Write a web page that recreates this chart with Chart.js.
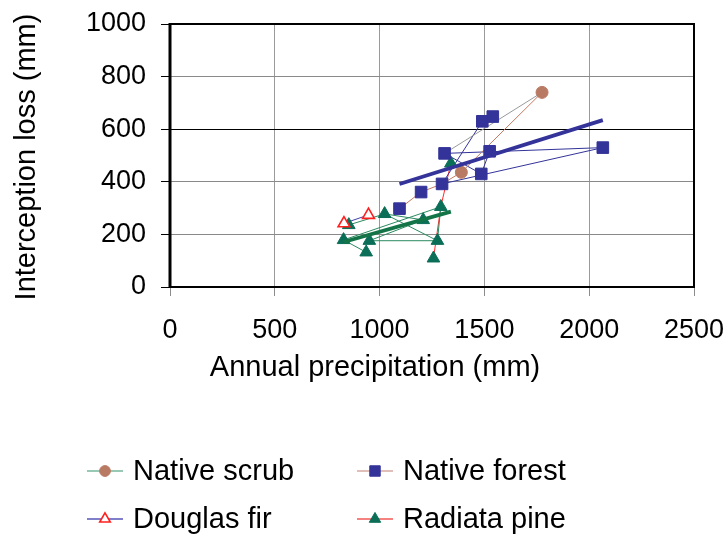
<!DOCTYPE html>
<html>
<head>
<meta charset="utf-8">
<script src="https://cdn.jsdelivr.net/npm/chart.js@4.4.1/dist/chart.umd.min.js"></script>
<style>
  html, body { margin: 0; padding: 0; background: #fff; }
  canvas { display: block; }
</style>
</head>
<body>
<canvas id="interception" width="723" height="535"></canvas>
<script>
// annual precipitation (mm) and interception loss (mm) per site
const scrubPrecip = [1775, 1390];
const scrubLoss = [740, 436];
const forestPrecip = [1095, 1198, 1298, 1310, 1490, 1540, 1525, 1485, 2065];
const forestLoss = [298, 361, 392, 508, 630, 648, 516, 430, 530];
const firPrecip = [830, 947];
const firLoss = [242, 274];
const pinePrecip = [853, 1024, 1208, 1292, 828, 951, 1276, 936, 1257, 1340];
const pineLoss = [236, 278, 255, 305, 179, 176, 176, 132, 109, 470];

// order in which the sites are joined up
const forestLink = [4, 2, 8, 3, 7, 6];
const forestScrubLink = [0, 1, 2];      // then on to scrub sites 1, 0
const pineLink = [7, 4, 3, 6, 5, 2, 1, 0];
const pineLink2 = [1, 6];
const pineRedLink = [8, 3, 9];

const xTicks = [0, 500, 1000, 1500, 2000, 2500];
const yTicks = [0, 200, 400, 600, 800, 1000];

const FONT = '"Liberation Sans", Arial, Helvetica, sans-serif';
const NAVY = '#333399';
const BROWN = '#b97a63';
const TEAL = '#0b6e57';

const pts = (xs, ys, idx) => idx.map(i => ({ x: xs[i], y: ys[i] }));
const all = (xs, ys) => xs.map((x, i) => ({ x, y: ys[i] }));

// least squares line across the range of the series
function trend(xs, ys) {
  const n = xs.length;
  const mx = xs.reduce((a, b) => a + b, 0) / n;
  const my = ys.reduce((a, b) => a + b, 0) / n;
  let sxy = 0, sxx = 0;
  xs.forEach((x, i) => { sxy += (x - mx) * (ys[i] - my); sxx += (x - mx) * (x - mx); });
  const b = sxy / sxx;
  const lo = Math.min(...xs), hi = Math.max(...xs);
  return [{ x: lo, y: my + b * (lo - mx) }, { x: hi, y: my + b * (hi - mx) }];
}

const path = (data, color, width, order) => ({
  data, showLine: true, borderColor: color, borderWidth: width,
  pointRadius: 0, pointHoverRadius: 0, order
});

const datasets = [
  path(trend(forestPrecip, forestLoss), NAVY, 3.8, 0),
  path(trend(pinePrecip, pineLoss), '#137447', 3.8, 0),
  {
    label: 'Native scrub', data: all(scrubPrecip, scrubLoss), showLine: false,
    pointStyle: 'circle', pointRadius: 6, backgroundColor: BROWN, borderColor: BROWN, order: 1
  },
  {
    label: 'Native forest', data: all(forestPrecip, forestLoss), showLine: false,
    pointStyle: 'rect', pointRadius: 8.2, backgroundColor: NAVY, borderColor: NAVY, order: 1
  },
  {
    label: 'Douglas fir', data: all(firPrecip, firLoss), showLine: false,
    pointStyle: 'triangle', pointRadius: 6.8, backgroundColor: '#fff', borderColor: '#ff1f1f',
    pointBorderWidth: 1.6, order: 1
  },
  {
    label: 'Radiata pine', data: all(pinePrecip, pineLoss), showLine: false,
    pointStyle: 'triangle', pointRadius: 7.3, backgroundColor: TEAL, borderColor: TEAL, order: 1
  },
  path([...pts(forestPrecip, forestLoss, forestScrubLink), ...pts(scrubPrecip, scrubLoss, [1, 0])], '#c27a62', 1, 2),
  path([...pts(scrubPrecip, scrubLoss, [0]), ...pts(forestPrecip, forestLoss, [3])], '#9a9a9a', 1, 2),
  path(pts(forestPrecip, forestLoss, forestLink), NAVY, 1, 2),
  path(all(firPrecip, firLoss), '#4040a8', 1, 2),
  path(pts(pinePrecip, pineLoss, pineLink), '#2b8a60', 1, 2),
  path(pts(pinePrecip, pineLoss, pineLink2), '#2b8a60', 1, 2),
  path(pts(pinePrecip, pineLoss, pineRedLink), '#ff2a2a', 1, 2)
];

const legendItems = [
  { text: 'Native scrub', line: '#74b79d', ds: 2 },
  { text: 'Native forest', line: '#d6aaa0', ds: 3 },
  { text: 'Douglas fir', line: '#5656b8', ds: 4 },
  { text: 'Radiata pine', line: '#f25757', ds: 5 }
];

// plot frame, axis titles and the two-column key underneath
const decorations = {
  id: 'decorations',
  beforeDatasetsDraw(chart) {
    const { ctx, chartArea: a } = chart;
    ctx.save();
    ctx.strokeStyle = '#000';
    ctx.lineWidth = 2;
    ctx.beginPath();
    ctx.moveTo(a.left, a.top);
    ctx.lineTo(a.right, a.top);
    ctx.lineTo(a.right, a.bottom);
    ctx.lineTo(a.left, a.bottom);
    ctx.stroke();
    ctx.lineWidth = 3;
    ctx.beginPath();
    ctx.moveTo(a.left, a.top - 1);
    ctx.lineTo(a.left, a.bottom + 1);
    ctx.stroke();
    ctx.restore();
  },
  afterDraw(chart) {
    const ctx = chart.ctx;
    ctx.save();
    ctx.fillStyle = '#000';
    ctx.font = '29px ' + FONT;
    ctx.textAlign = 'center';
    ctx.textBaseline = 'alphabetic';
    ctx.fillText('Annual precipitation (mm)', 375, 376);

    ctx.save();
    ctx.translate(35, 157);
    ctx.rotate(-Math.PI / 2);
    ctx.fillText('Interception loss (mm)', 0, 0);
    ctx.restore();

    ctx.textAlign = 'left';
    legendItems.forEach((item, i) => {
      const col = i % 2, row = Math.floor(i / 2);
      const x0 = col ? 357 : 87;
      const ly = row ? 519 : 471;
      ctx.strokeStyle = item.line;
      ctx.lineWidth = 1.5;
      ctx.beginPath();
      ctx.moveTo(x0, ly);
      ctx.lineTo(x0 + 36, ly);
      ctx.stroke();
      const ds = chart.data.datasets[item.ds];
      ctx.fillStyle = ds.backgroundColor;
      ctx.strokeStyle = ds.borderColor;
      ctx.lineWidth = ds.pointBorderWidth || 1;
      Chart.helpers.drawPoint(ctx, {
        pointStyle: ds.pointStyle, radius: ds.pointRadius * 0.9, rotation: 0, borderWidth: ctx.lineWidth
      }, x0 + 18, ly);
      ctx.fillStyle = '#000';
      ctx.fillText(item.text, x0 + 46, row ? 528 : 480);
    });
    ctx.restore();
  }
};

const ctx = document.getElementById('interception').getContext('2d');

const chart = new Chart(ctx, {
  type: 'scatter',
  data: { datasets },
  options: {
    responsive: false,
    animation: false,
    layout: { padding: { left: 0, top: 24, right: 29, bottom: 188 } },
    plugins: { legend: { display: false }, tooltip: { enabled: false } },
    scales: {
      x: {
        type: 'linear', min: 0, max: 2500,
        afterBuildTicks: s => { s.ticks = xTicks.map(v => ({ value: v })); },
        afterFit: s => { s.height = 60; s.paddingLeft = 0; s.paddingRight = 0; },
        ticks: {
          color: '#000', font: { family: FONT, size: 27 }, padding: 18, maxRotation: 0,
          callback: v => String(v)
        },
        grid: {
          color: c => (c.tick.value === 0 || c.tick.value === 2500) ? 'rgba(0,0,0,0)' : '#9a9a9a',
          tickColor: '#8c8c8c', tickLength: 9
        },
        border: { display: false }
      },
      y: {
        type: 'linear', min: 0, max: 1000,
        afterBuildTicks: s => { s.ticks = yTicks.map(v => ({ value: v })); },
        afterFit: s => { s.width = 170; s.paddingTop = 0; s.paddingBottom = 0; },
        ticks: { color: '#000', font: { family: FONT, size: 27 }, padding: 15, callback: v => String(v) },
        grid: {
          color: c => c.tick.value === 600 ? '#000'
            : (c.tick.value === 0 || c.tick.value === 1000) ? 'rgba(0,0,0,0)' : '#8a8a8a',
          tickColor: '#000', tickLength: 9
        },
        border: { display: false }
      }
    }
  },
  plugins: [decorations]
});
</script>
</body>
</html>
